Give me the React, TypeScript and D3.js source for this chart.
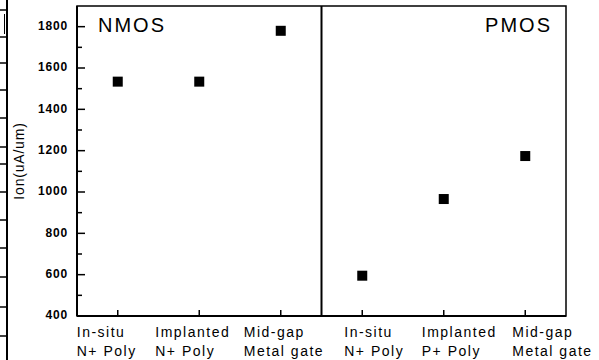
import React from "react";
import * as d3 from "d3";

const categories = [
  ["In-situ", "N+ Poly"],
  ["Implanted", "N+ Poly"],
  ["Mid-gap", "Metal gate"],
  ["In-situ", "N+ Poly"],
  ["Implanted", "P+ Poly"],
  ["Mid-gap", "Metal gate"],
];
const groups = ["NMOS", "PMOS"];
const ionValues = [1534, 1534, 1780, 595, 966, 1174];
const yMajorTicks = [400, 600, 800, 1000, 1200, 1400, 1600, 1800];
const yMinorTicks = [500, 700, 900, 1100, 1300, 1500, 1700];
const yTitle = "Ion(uA/um)";

const W = 599;
const H = 360;
const FONT = "'Liberation Sans', Arial, Helvetica, sans-serif";
const labelOffsets = [-41, -44, -37, -18, -22, -13];
const stripLines = [10, 37, 63, 90, 118, 147, 164, 192, 220, 248, 277, 307, 336];

export default function App() {
  const x = d3.scaleLinear().domain([0.5, 6.5]).range([77, 566]);
  const y = d3.scaleLinear().domain([400, 1900]).range([316, 6]);
  const [x0, x1] = x.range();
  const [yb, yt] = y.range();
  const xDiv = x(3.5);
  const ms = 10;

  return (
    <svg
      width={W}
      height={H}
      style={{ position: "absolute", left: 0, top: 0, background: "#fff" }}
      fontFamily={FONT}
    >
      <rect x={0} y={0} width={W} height={H} fill="#fff" />
      {/* cropped neighbouring table at left edge */}
      <line x1={7} x2={7} y1={0} y2={H} stroke="#000" strokeWidth={2} />
      {stripLines.map((v, i) => (
        <line key={i} x1={0} x2={7} y1={v} y2={v} stroke="#000" strokeWidth={1.5} />
      ))}
      <line x1={4.5} x2={4.5} y1={14} y2={34} stroke="#000" strokeWidth={1} />

      {/* frame */}
      <rect x={x0} y={yt} width={x1 - x0} height={yb - yt} fill="none" stroke="#000" strokeWidth={1.5} />
      <line x1={x0} x2={x0} y1={yt} y2={yb} stroke="#000" strokeWidth={2} />
      <line x1={x0} x2={x1} y1={yb} y2={yb} stroke="#000" strokeWidth={2} />
      <line x1={xDiv} x2={xDiv} y1={yt} y2={yb} stroke="#000" strokeWidth={2} />

      {/* y ticks */}
      {yMajorTicks.map((t) => (
        <g key={t}>
          <line x1={x0} x2={x0 + 8} y1={y(t)} y2={y(t)} stroke="#000" strokeWidth={1.5} />
          <text
            x={68}
            y={y(t)}
            textAnchor="end"
            dominantBaseline="middle"
            fontSize={12}
            fontWeight="bold"
            letterSpacing={0.8}
          >
            {t}
          </text>
        </g>
      ))}
      {yMinorTicks.map((t) => (
        <line key={t} x1={x0} x2={x0 + 5} y1={y(t)} y2={y(t)} stroke="#000" strokeWidth={1.5} />
      ))}

      {/* y title */}
      <text
        transform={`translate(24,${(yt + yb) / 2}) rotate(-90)`}
        textAnchor="middle"
        fontSize={14}
        letterSpacing={0.8}
      >
        {yTitle}
      </text>

      {/* x ticks and labels */}
      {categories.map((c, i) => {
        const cx = x(i + 1);
        const lx = cx + labelOffsets[i];
        return (
          <g key={i}>
            <line x1={cx} x2={cx} y1={yb} y2={yb - 6} stroke="#000" strokeWidth={1.5} />
            <text x={lx} y={337} fontSize={14} letterSpacing={1.5}>
              {c[0]}
            </text>
            <text x={lx} y={356} fontSize={14} letterSpacing={1.5}>
              {c[1]}
            </text>
          </g>
        );
      })}

      {/* markers */}
      {ionValues.map((v, i) => (
        <rect
          key={i}
          x={x(i + 1) - ms / 2}
          y={y(v) - ms / 2}
          width={ms}
          height={ms}
          fill="#000"
        />
      ))}

      {/* group labels */}
      <text x={98} y={32} fontSize={20} letterSpacing={2}>
        {groups[0]}
      </text>
      <text x={552} y={32} fontSize={20} letterSpacing={2} textAnchor="end">
        {groups[1]}
      </text>
    </svg>
  );
}
